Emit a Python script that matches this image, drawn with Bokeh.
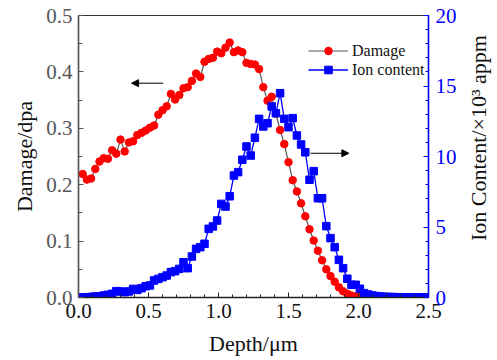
import math
from bokeh.plotting import figure
from bokeh.layouts import row
from bokeh.models import (Range1d, LinearAxis, SingleIntervalTicker, PrintfTickFormatter,
                          Legend, LegendItem, Arrow, NormalHead, Label)
from bokeh.embed import file_html
from bokeh.resources import INLINE

# ---------------- data ----------------
depth_damage = [0.03, 0.06, 0.09, 0.12, 0.15, 0.18, 0.21, 0.24, 0.27, 0.30,
                0.33, 0.36, 0.39, 0.42, 0.45, 0.48, 0.51, 0.54, 0.57, 0.60,
                0.63, 0.66, 0.69, 0.72, 0.75, 0.78, 0.81, 0.84, 0.87, 0.90,
                0.93, 0.96, 0.99, 1.02, 1.05, 1.08, 1.11, 1.14, 1.17, 1.20,
                1.23, 1.26, 1.29, 1.32, 1.35, 1.38, 1.41, 1.44, 1.47, 1.50,
                1.53, 1.56, 1.59, 1.62, 1.65, 1.68, 1.71, 1.74, 1.77, 1.80,
                1.83, 1.86, 1.89, 1.92, 1.95, 1.98, 2.01, 2.04, 2.07, 2.10,
                2.13, 2.16, 2.19, 2.22, 2.25, 2.28, 2.31, 2.34, 2.37, 2.40,
                2.43, 2.46, 2.49]
damage = [0.219, 0.209, 0.211, 0.228, 0.241, 0.247, 0.246, 0.261, 0.255, 0.280,
          0.259, 0.275, 0.277, 0.288, 0.292, 0.296, 0.301, 0.305, 0.324, 0.332,
          0.339, 0.361, 0.351, 0.359, 0.371, 0.373, 0.384, 0.397, 0.391, 0.418,
          0.423, 0.425, 0.436, 0.433, 0.443, 0.452, 0.435, 0.438, 0.435, 0.416,
          0.414, 0.413, 0.405, 0.373, 0.349, 0.356, 0.326, 0.297, 0.272, 0.240,
          0.208, 0.188, 0.167, 0.144, 0.121, 0.101, 0.083, 0.066, 0.050, 0.038,
          0.028, 0.018, 0.011, 0.0066, 0.0035, 0.002, 0.0012, 0.0009, 0.0007, 0.0005,
          0.0004, 0.0003, 0.0002, 0.0002, 0.0001, 0.0001, 0.0001, 0.0, 0.0, 0.0,
          0.0, 0.0, 0.0]

depth_ion = [0.00, 0.03, 0.06, 0.09, 0.12, 0.15, 0.18, 0.21, 0.24, 0.27, 0.30,
             0.33, 0.36, 0.39, 0.42, 0.45, 0.48, 0.51, 0.54, 0.57, 0.60,
             0.63, 0.66, 0.69, 0.72, 0.75, 0.78, 0.81, 0.84, 0.87, 0.90,
             0.93, 0.96, 0.99, 1.02, 1.05, 1.08, 1.11, 1.14, 1.17, 1.20,
             1.23, 1.26, 1.29, 1.32, 1.35, 1.38, 1.41, 1.44, 1.47, 1.50,
             1.53, 1.56, 1.59, 1.62, 1.65, 1.68, 1.71, 1.74, 1.77, 1.80,
             1.83, 1.86, 1.89, 1.92, 1.95, 1.98, 2.01, 2.04, 2.07, 2.10,
             2.13, 2.16, 2.19, 2.22, 2.25, 2.28, 2.31, 2.34, 2.37, 2.40,
             2.43, 2.46, 2.49]
ion = [0.00, 0.01, 0.02, 0.04, 0.07, 0.08, 0.14, 0.19, 0.26, 0.45,
       0.43, 0.38, 0.43, 0.61, 0.54, 0.66, 0.80, 0.85, 1.21, 1.32,
       1.44, 1.56, 1.80, 1.87, 2.03, 2.50, 2.08, 2.91, 3.45, 3.57,
       3.81, 4.87, 5.04, 5.46, 6.64, 6.45, 7.18, 8.65, 8.89, 9.77,
       10.71, 10.07, 11.33, 12.67, 12.13, 12.36, 13.55, 13.07, 14.49, 12.67,
       12.08, 12.72, 11.49, 10.85, 10.30, 8.35, 8.96, 7.04, 7.04, 5.06,
       4.21, 3.57, 2.67, 2.08, 1.33, 0.90, 0.90, 0.62, 0.31, 0.21,
       0.14, 0.10, 0.07, 0.05, 0.04, 0.03, 0.02, 0.02, 0.01, 0.01,
       0.01, 0.0, 0.0, 0.0]

series_names = ["Damage", "Ion content"]
x_label = "Depth/\u03bcm"
y_label = "Damage/dpa"
y2_label = "Ion Content/\u00d710\u00b3 appm"

# annotation positions
arrow_left = [0.605, 0.379, 0.380]      # x_start, x_end, y (left axis units)
arrow_right = [1.657, 1.931, 10.23]     # x_start, x_end, y (right axis units)

FONT = "Liberation Serif"

p = figure(width=467, height=360,
           x_range=Range1d(0, 2.5), y_range=Range1d(0, 0.5),
           output_backend="svg", toolbar_location=None,
           min_border_left=78, min_border_right=39, min_border_top=15, min_border_bottom=63)
p.extra_y_ranges = {"ion": Range1d(0, 20)}
p.grid.visible = False
p.outline_line_color = "#333333"
p.outline_line_width = 1.2
p.background_fill_color = "white"
p.border_fill_color = "white"

# x axis
xa = p.xaxis[0]
xa.ticker = SingleIntervalTicker(interval=0.5, num_minor_ticks=5)
xa.formatter = PrintfTickFormatter(format="%.1f")
xa.axis_label = x_label
xa.axis_line_color = "#222222"
xa.axis_line_width = 1.5
xa.major_tick_in = 5
xa.major_tick_out = 0
xa.minor_tick_in = 3
xa.minor_tick_out = 0
xa.major_tick_line_color = "#222222"
xa.minor_tick_line_color = "#222222"
xa.major_label_text_font = FONT
xa.major_label_text_font_size = "21px"
xa.major_label_text_color = "#111111"
xa.major_label_standoff = 6
xa.axis_label_text_font = FONT
xa.axis_label_text_font_size = "22px"
xa.axis_label_text_font_style = "normal"
xa.axis_label_text_color = "#111111"
xa.axis_label_standoff = 10

# left axis
ya = p.yaxis[0]
ya.ticker = SingleIntervalTicker(interval=0.1, num_minor_ticks=2)
ya.formatter = PrintfTickFormatter(format="%.1f")
ya.axis_label = y_label
ya.axis_line_color = "#555555"
ya.axis_line_width = 1.5
ya.major_tick_in = 5
ya.major_tick_out = 0
ya.minor_tick_in = 4
ya.minor_tick_out = 0
ya.major_tick_line_color = "#555555"
ya.minor_tick_line_color = "#555555"
ya.major_label_text_font = FONT
ya.major_label_text_font_size = "21px"
ya.major_label_text_color = "#555555"
ya.major_label_standoff = 6
ya.axis_label_text_font = FONT
ya.axis_label_text_font_size = "22px"
ya.axis_label_text_font_style = "normal"
ya.axis_label_text_color = "#111111"
ya.axis_label_standoff = 6

# right axis
ra = LinearAxis(y_range_name="ion",
                ticker=SingleIntervalTicker(interval=5, num_minor_ticks=5),
                formatter=PrintfTickFormatter(format="%d"))
ra.axis_line_color = "#0000ff"
ra.axis_line_width = 1.5
ra.major_tick_in = 5
ra.major_tick_out = 0
ra.minor_tick_in = 3
ra.minor_tick_out = 0
ra.major_tick_line_color = "#0000ff"
ra.minor_tick_line_color = "#0000ff"
ra.major_label_text_font = FONT
ra.major_label_text_font_size = "21px"
ra.major_label_text_color = "#0000ff"
ra.major_label_standoff = 7
p.add_layout(ra, "right")

# damage series
dl = p.line(depth_damage, damage, line_color="#555555", line_width=1.2)
dm = p.scatter(depth_damage, damage, marker="circle", size=7.5,
               fill_color="#ff0000", line_color="#ff0000")
# ion series
il = p.line(depth_ion, ion, y_range_name="ion", line_color="#0000ff", line_width=1.3)
im = p.scatter(depth_ion, ion, y_range_name="ion", marker="square", size=7.5,
               fill_color="#0000ff", line_color="#0000ff")

legend = Legend(items=[LegendItem(label=series_names[0], renderers=[dl, dm]),
                       LegendItem(label=series_names[1], renderers=[il, im])],
                location=(230, 218), padding=0, margin=0, spacing=0,
                glyph_width=40, glyph_height=19, label_height=19,
                label_standoff=4,
                label_text_font=FONT, label_text_font_size="16px",
                label_text_color="#111111",
                background_fill_alpha=0, border_line_alpha=0)
p.add_layout(legend, "center")

head1 = NormalHead(size=7, fill_color="black", line_color="black")
p.add_layout(Arrow(end=head1, x_start=arrow_left[0], x_end=arrow_left[1],
                   y_start=arrow_left[2], y_end=arrow_left[2],
                   line_color="black", line_width=1))
head2 = NormalHead(size=7, fill_color="black", line_color="black")
p.add_layout(Arrow(end=head2, x_start=arrow_right[0], x_end=arrow_right[1],
                   y_start=arrow_right[2], y_end=arrow_right[2],
                   y_range_name="ion",
                   line_color="black", line_width=1))

# narrow strip holding the right-axis title (reads bottom to top)
p2 = figure(width=30, height=360, x_range=Range1d(0, 30), y_range=Range1d(0, 360),
            output_backend="svg", toolbar_location=None,
            x_axis_location=None, y_axis_location=None,
            min_border_left=0, min_border_right=0, min_border_top=0, min_border_bottom=0)
p2.grid.visible = False
p2.outline_line_color = None
p2.background_fill_color = "white"
p2.border_fill_color = "white"
p2.add_layout(Label(x=11, y=203.5, text=y2_label,
                    angle=math.pi / 2, text_align="center", text_baseline="middle",
                    text_font=FONT, text_font_size="22px", text_color="#111111"))

layout = row(p, p2, spacing=0)
open("out.html", "w").write(file_html(layout, INLINE))
